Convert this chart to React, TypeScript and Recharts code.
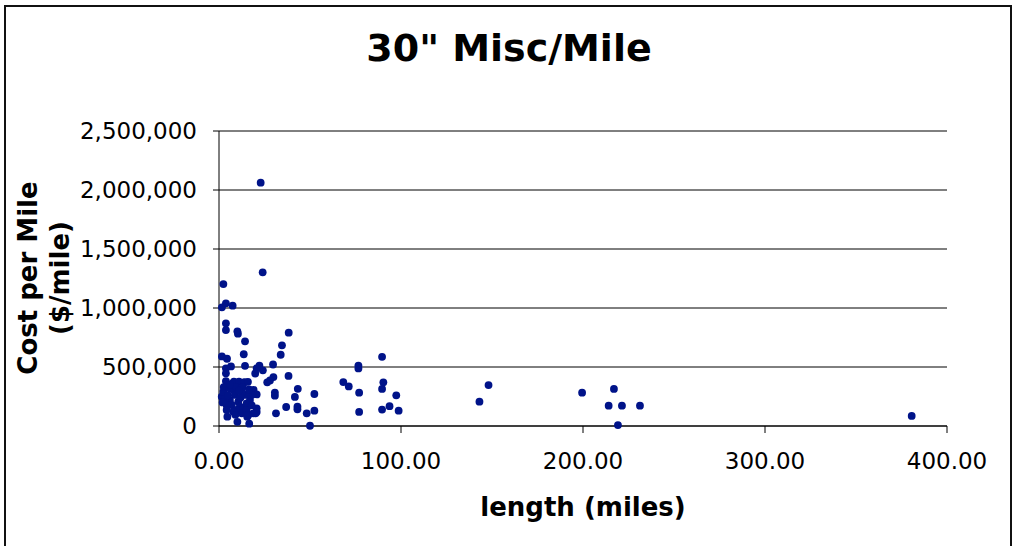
import { ScatterChart, Scatter, XAxis, YAxis, CartesianGrid } from "recharts";

// length of segment (miles)
const lengthMiles = [
  22.9, 24.0, 2.4, 1.6, 3.8, 7.5, 3.8, 3.8, 10.1, 10.4, 38.3, 14.3, 34.6, 33.9, 13.6, 1.6, 4.4, 89.6,
  14.3, 22.2, 29.7, 24.1, 19.9, 6.6, 3.8, 3.8, 76.6, 76.6, 38.2, 29.9, 28.0, 26.5, 3.8, 68.3, 71.3, 90.3,
  89.6, 43.3, 19.0, 13.4, 7.5, 77.0, 52.4, 30.7, 30.7, 20.7, 41.7, 97.4, 36.9, 43.1, 43.1, 93.7, 89.6, 98.7,
  52.4, 48.2, 31.3, 77.0, 20.7, 50.0, 16.6, 10.1, 148.1, 143.1, 199.5, 217.0, 214.1, 221.4, 231.3, 219.2, 380.6,
  20.7, 8.2, 11.0, 14.1, 15.9, 4.6, 15.5, 20.1, 1.5, 2.4, 2.6, 5.7, 7.9, 8.8, 6.0, 4.2, 7.0, 10.6, 11.5, 9.7,
  13.4, 15.2, 17.0, 17.9, 14.8, 12.5, 7.9, 12.5, 15.2, 4.2, 16.1, 20.7, 18.9, 3.2, 5.0, 9.5, 11.8, 6.0, 13.0,
  18.0, 2.0, 9.0, 11.0, 16.5,
];

// cost per mile ($/mile)
const costPerMile = [
  2062000, 1302000, 1203000, 1006000, 1040000, 1020000, 870000, 813000, 802000, 782000, 791000, 718000, 684000,
  604000, 608000, 590000, 570000, 586000, 510000, 512000, 521000, 472000, 445000, 505000, 489000, 446000, 512000,
  488000, 424000, 415000, 386000, 370000, 381000, 372000, 335000, 370000, 314000, 315000, 305000, 367000, 362000,
  282000, 271000, 283000, 257000, 268000, 246000, 260000, 161000, 164000, 141000, 168000, 139000, 130000, 130000,
  107000, 107000, 119000, 119000, 2000, 20000, 35000, 347000, 206000, 282000, 314000, 172000, 172000, 172000,
  8000, 85000,
  489000, 376000, 376000, 372000, 374000, 79000, 79000, 107000, 248000, 291000, 330000, 319000, 305000, 263000,
  220000, 178000, 178000, 206000, 164000, 136000, 150000, 192000, 220000, 263000, 263000, 291000, 121000, 107000,
  136000, 136000, 93000, 150000, 107000, 230000, 260000, 330000, 240000, 350000, 330000, 175000, 200000, 95000,
  300000, 310000,
];

const xTicks = [0, 100, 200, 300, 400];
const yTicks = [0, 500000, 1000000, 1500000, 2000000, 2500000];

const points = lengthMiles.map((x, i) => ({ x, y: costPerMile[i] }));

const font = '"DejaVu Sans", Verdana, sans-serif';

const Dot = (props: any) => <circle cx={props.cx} cy={props.cy} r={3.9} fill="#001389" />;

export default function App() {
  return (
    <div style={{ position: "absolute", left: 0, top: 0, width: 1018, height: 546, overflow: "hidden", background: "#fff", fontFamily: font }}>
      <div style={{ position: "absolute", left: 4, top: 5, width: 1008, height: 600, border: "2px solid #111", boxSizing: "border-box" }} />
      <div style={{ position: "absolute", left: 0, width: 1018, top: 24, textAlign: "center", fontSize: 38, fontWeight: "bold", lineHeight: "48px" }}>
        30" Misc/Mile
      </div>
      <div
        style={{
          position: "absolute", left: 44, top: 278, width: 320, textAlign: "center", fontSize: 26, fontWeight: "bold",
          lineHeight: "32px", transform: "translate(-50%, -50%) rotate(-90deg)", whiteSpace: "nowrap",
        }}
      >
        Cost per Mile
        <br />
        ($/mile)
      </div>
      <div style={{ position: "absolute", left: 219, width: 728, top: 490, textAlign: "center", fontSize: 26, fontWeight: "bold", lineHeight: "34px" }}>
        length (miles)
      </div>
      <div style={{ position: "absolute", left: 0, top: 0 }}>
        <ScatterChart width={1018} height={546} margin={{ top: 131, right: 71, bottom: 80, left: 19 }}>
          <CartesianGrid vertical={false} stroke="#000" strokeWidth={1} />
          <XAxis
            type="number"
            dataKey="x"
            domain={[0, 400]}
            ticks={xTicks}
            height={40}
            tickSize={7}
            tickMargin={20}
            tickFormatter={(v: number) => v.toFixed(2)}
            stroke="#000"
            tick={{ fill: "#000", fontSize: 23, fontFamily: font }}
            interval={0}
          />
          <YAxis
            type="number"
            dataKey="y"
            domain={[0, 2500000]}
            ticks={yTicks}
            width={200}
            tickSize={6}
            tickMargin={16}
            tickFormatter={(v: number) => v.toLocaleString("en-US")}
            stroke="#000"
            tick={{ fill: "#000", fontSize: 23, fontFamily: font }}
            interval={0}
          />
          <Scatter data={points} shape={Dot} isAnimationActive={false} />
        </ScatterChart>
      </div>
    </div>
  );
}
